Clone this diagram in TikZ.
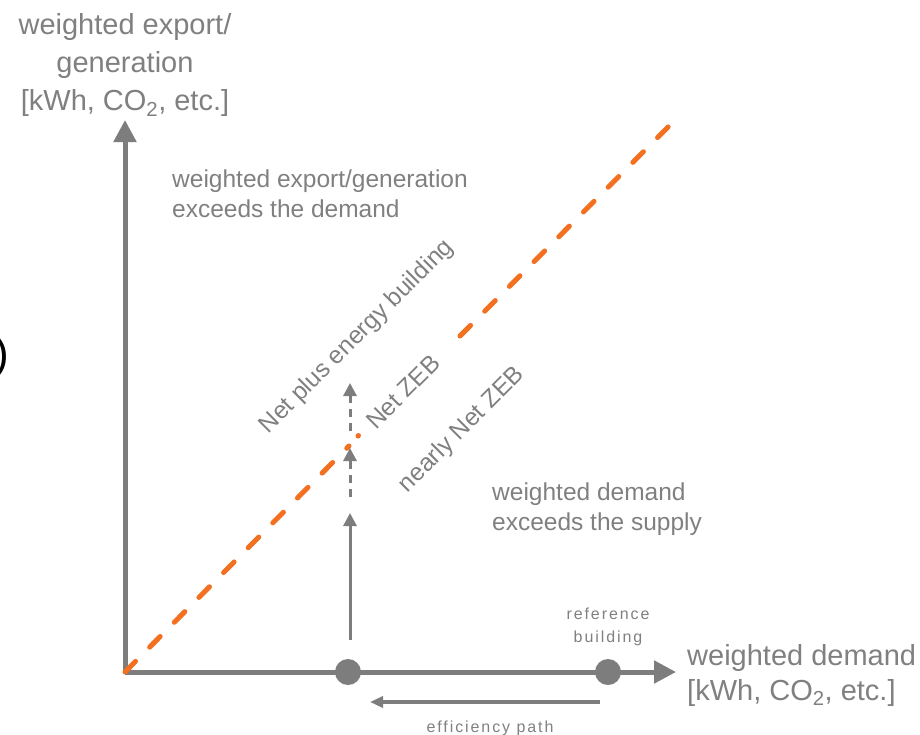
\documentclass[tikz,border=0pt]{standalone}
\usepackage{fontspec}
\setmainfont{Liberation Sans}
\newfontfamily\spacedfont[LetterSpace=12]{Liberation Sans}
\usepackage{tikz}
\usetikzlibrary{arrows,arrows.meta,shapes}
\definecolor{linegray}{RGB}{125,125,125}
\definecolor{txtgray}{RGB}{128,128,128}
\definecolor{zeborange}{RGB}{243,112,33}
\tikzstyle{bdot}=[circle,fill=linegray,minimum size=26pt,inner sep=0pt]
\tikzstyle{axisline} = [draw=linegray,line width=5pt,-{Triangle[length=22pt,width=22pt]}]
\tikzstyle{zebline} = [draw=zeborange,line width=5pt,line cap=round,dash pattern=on 15pt off 20pt]
\tikzstyle{stepline} = [draw=linegray,line width=3pt,-{Triangle[length=13pt,width=13pt]}]
\tikzstyle{txt}=[text=txtgray,inner sep=0pt,font=\fontsize{24.5}{30}\selectfont]
\tikzstyle{smalltxt}=[text=txtgray,inner sep=0pt,font=\spacedfont\fontsize{16}{23}\selectfont]

\begin{document}
\begin{tikzpicture}[x=1pt,y=-1pt]
      \useasboundingbox (0,0) rectangle (920,734);
      % axes
      \coordinate (o) at (125,672);
      \coordinate (ytip) at (125,120);
      \coordinate (xtip) at (676,672);
      \draw[axisline] (o) -- (ytip);
      \draw[axisline] (o) -- (xtip);
      % balance line
      \coordinate (zebA) at (349,446);
      \coordinate (zebD) at (358,436);
      \coordinate (zebB) at (460,336);
      \coordinate (zebC) at (678,117);
      \draw[zebline] (o) -- (zebA);
      \draw[zebline,solid] (zebD) -- ++(0.5,-0.5);
      \draw[zebline] (zebB) -- (zebC);
      % buildings on the demand axis
      \node[bdot] (nzeb) at (348,672) {};
      \node[bdot] (ref) at (608,672) {};
      \coordinate (effS) at (600,702);
      \coordinate (effE) at (370,702);
      \draw[draw=linegray,line width=3.5pt,-{Triangle[length=13pt,width=11pt]}] (effS) -- (effE);
      % steps towards net ZEB
      \coordinate (up0) at (350,640);
      \coordinate (up1) at (350,513);
      \coordinate (up2) at (350,497);
      \coordinate (up3) at (350,448);
      \coordinate (up4) at (350,431);
      \coordinate (up5) at (350,383);
      \draw[stepline] (up0) -- (up1);
      \draw[stepline,dash pattern=on 8pt off 6pt] (up2) -- (up3);
      \draw[stepline,dash pattern=on 8pt off 6pt] (up4) -- (up5);
      % labels
      \node[txt,align=center,font=\fontsize{29}{38}\selectfont] (ylab) at (125,65)
        {weighted export/\\generation\\{[}kWh, CO\textsubscript{2}, etc.{]}};
      \node[txt,align=left,anchor=west,font=\fontsize{29}{35}\selectfont] (xlab) at (687,675)
        {weighted demand\\{[}kWh, CO\textsubscript{2}, etc.{]}};
      \node[txt,align=left,anchor=west] (above) at (172,194)
        {weighted export/generation\\exceeds the demand};
      \node[txt,align=left,anchor=west] (below) at (492,509)
        {weighted demand\\exceeds the supply};
      \node[txt,rotate=45] (plus) at (357,337) {Net plus energy building};
      \node[txt,rotate=45] (netzeb) at (403,392) {Net ZEB};
      \node[txt,rotate=45] (nearly) at (462,430) {nearly Net ZEB};
      \node[smalltxt,align=center] (reflab) at (608,627) {reference\\building};
      \node[smalltxt,anchor=base] (efflab) at (490,732) {efficiency path};
      \node[inner sep=0pt,anchor=east,font=\fontsize{44}{48}\selectfont] (paren) at (9,357) {)};
    \end{tikzpicture}
\end{document}
